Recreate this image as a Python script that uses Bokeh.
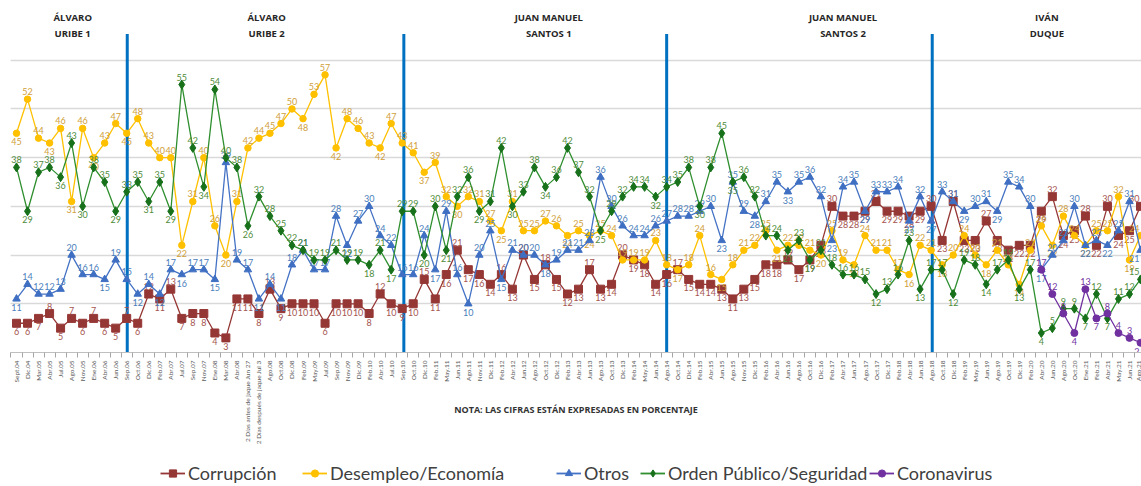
import math
from bokeh.plotting import figure
from bokeh.layouts import column
from bokeh.models import FixedTicker, Grid, Legend, LegendItem, ColumnDataSource
from bokeh.embed import file_html
from bokeh.resources import INLINE
from bokeh.core.properties import value

# ---------------- data ----------------
fechas = [
    "Sept.04", "Dic.04", "Mar.05", "Abr.05", "Jul.05", "Ago.05", "Nov.05", "Ene.06", "Abr.06", "Jun.06",
    "Sep.06", "Oct.06", "Dic.06", "Feb.07", "Abr.07", "Jul.07", "Sep.07", "Nov.07", "Ene.08", "Mar.08",
    "Abr.08", "2 Días antes de jaque Jun 27", "2 Días después de jaque Jul 3", "Ago.08", "Oct.08", "Dic.08", "Feb.09", "May.09", "Jul.09", "Sep.09",
    "Nov.09", "Dic.09", "Feb.10", "Abr.10", "Jul.10", "Sep.10", "Oct.10", "Dic.10", "Feb.11", "May.11",
    "Jun.11", "Ago.11", "Nov.11", "Dic.11", "Feb.12", "Abr.12", "Jun.12", "Ago.12", "Oct.12", "Dic.12",
    "Feb.13", "Abr.13", "Jun.13", "Ago.13", "Oct.13", "Dic.13", "Feb.14", "May.14", "Jun.14", "Ago.14",
    "Oct.14", "Dic.14", "Feb.15", "Abr.15", "Jun.15", "Ago.15", "Nov.15", "Dic.15", "Feb.16", "Abr.16",
    "Jun.16", "Ago.16", "Oct.16", "Dic.16", "Feb.17", "Abr.17", "Jun.17", "Ago.17", "Oct.17", "Dic.17",
    "Feb.18", "Abr.18", "Jun.18", "Ago.18", "Oct.18", "Dic.18", "Feb.19", "May.19", "Jun.19", "Ago.19",
    "Oct.19", "Dic.19", "Feb.20", "Abr.20", "Jun.20", "Ago.20", "Oct.20", "Ene.21", "Feb.21", "Abr.21",
    "May.21", "Jun.21", "Ago.21",
]

corrupcion = [
    6, 6, 7, 8, 5, 7, 6, 7, 6, 5,
    7, 6, 12, 11, 13, 7, 8, 8, 4, 3,
    11, 11, 8, 13, 9, 10, 10, 10, 6, 10,
    10, 10, 8, 12, 10, 9, 10, 15, 11, 16,
    21, 17, 16, 14, 16, 13, 20, 15, 18, 15,
    12, 13, 17, 13, 14, 20, 19, 18, 14, 16,
    17, 15, 14, 14, 13, 11, 13, 15, 18, 18,
    19, 17, 19, 22, 30, 28, 28, 29, 31, 29,
    29, 28, 29, 30, 23, 31, 23, 23, 27, 23,
    21, 22, 22, 29, 32, 24, 25, 28, 22, 30,
    24, 25, 30,
]

desempleo = [
    45, 52, 44, 43, 46, 31, 46, 40, 43, 47,
    45, 48, 43, 40, 40, 22, 31, 40, 26, 20,
    31, 42, 44, 45, 47, 50, 48, 53, 57, 42,
    48, 46, 43, 42, 47, 43, 41, 37, 39, 32,
    30, 32, 31, 27, 25, 31, 25, 25, 27, 26,
    24, 25, 24, 25, 24, 19, 19, 19, 23, 18,
    17, 18, 24, 16, 15, 18, 21, 22, 25, 21,
    22, 22, 21, 20, 25, 19, 18, 24, 21, 21,
    17, 16, 22, 21, 18, 20, 24, 20, 18, 21,
    18, 14, 21, 26, 22, 28, 24, 22, 25, 25,
    32, 19, 24,
]

otros = [
    11, 14, 12, 12, 13, 20, 16, 16, 15, 19,
    15, 12, 14, 12, 17, 16, 17, 17, 15, 39,
    19, 17, 11, 14, 11, 18, 21, 17, 17, 28,
    22, 27, 30, 24, 22, 16, 16, 24, 17, 29,
    16, 10, 20, 25, 15, 21, 20, 20, 18, 19,
    21, 21, 23, 36, 30, 26, 24, 24, 26, 27,
    28, 28, 29, 30, 23, 35, 29, 28, 31, 35,
    33, 35, 36, 32, 23, 34, 35, 29, 33, 33,
    34, 27, 32, 27, 33, 31, 29, 30, 31, 29,
    35, 34, 30, 17, 20, 23, 30, 22, 23, 22,
    25, 31, 21,
]

orden = [
    38, 29, 37, 38, 36, 43, 30, 38, 35, 29,
    33, 35, 31, 35, 29, 55, 42, 34, 54, 40,
    38, 26, 32, 28, 25, 22, 21, 19, 19, 21,
    19, 19, 18, 21, 17, 29, 29, 20, 30, 21,
    32, 36, 29, 31, 42, 30, 33, 38, 34, 36,
    42, 37, 32, 25, 29, 32, 34, 34, 32, 34,
    35, 38, 30, 38, 45, 35, 36, 32, 24, 24,
    21, 23, 19, 21, 18, 16, 16, 15, 12, 13,
    16, 23, 13, 17, 17, 12, 19, 18, 14, 17,
    19, 13, 17, 4, 5, 9, 9, 7, 12, 7,
    11, 12, 15,
]

coronavirus_fechas = ["Abr.20", "Jun.20", "Ago.20", "Oct.20", "Ene.21", "Feb.21", "Abr.21", "May.21", "Jun.21", "Ago.21"]
coronavirus = [17, 12, 8, 4, 13, 7, 8, 4, 3, 2]

gobiernos_l1 = ["ÁLVARO", "ÁLVARO", "JUAN MANUEL", "JUAN MANUEL", "IVÁN"]
gobiernos_l2 = ["URIBE 1", "URIBE 2", "SANTOS 1", "SANTOS 2", "DUQUE"]
gobiernos_centro = [5.1, 22.7, 48.3, 75.0, 93.5]
cambios_gobierno = [10.05, 35.15, 59.0, 83.1]

nota = "NOTA: LAS CIFRAS ESTÁN EXPRESADAS EN PORCENTAJE"

# ---------------- main figure ----------------
n = len(fechas)
xs = list(range(n))
FONT = "Lato"

p = figure(width=1141, height=446, x_range=(-0.545, 102.09), y_range=(0, 70),
           output_backend="svg", toolbar_location=None, y_axis_location=None,
           min_border_left=10, min_border_right=0, min_border_top=11, min_border_bottom=94)
p.outline_line_color = None
p.xgrid.visible = False
p.add_layout(Grid(dimension=1, ticker=FixedTicker(ticks=list(range(0, 71, 10))),
                  grid_line_color="#d9d9d9", grid_line_width=1.5))

xa = p.xaxis[0]
xa.ticker = FixedTicker(ticks=xs, minor_ticks=[i - 0.5 for i in range(n + 1)])
xa.major_label_overrides = {i: f for i, f in enumerate(fechas)}
xa.major_label_orientation = math.pi / 2
xa.major_tick_line_color = None
xa.major_tick_out = 0
xa.major_tick_in = 0
xa.minor_tick_line_color = "#a6a6a6"
xa.minor_tick_out = 5
xa.minor_tick_in = 0
xa.axis_line_color = "#bfbfbf"
xa.major_label_text_font_size = "6.5px"
xa.major_label_text_color = "#595959"
xa.major_label_text_font = FONT
xa.major_label_standoff = 3
xa.axis_label = nota
xa.axis_label_text_font = "Open Sans"
xa.axis_label_text_font_size = "9px"
xa.axis_label_text_font_style = "bold"
xa.axis_label_text_color = "#333333"
xa.axis_label_standoff = -44

# government change separators
p.segment(x0=cambios_gobierno, y0=0, x1=cambios_gobierno, y1=65.4,
          line_color="#0070c0", line_width=3)

# government titles
for txt, yv in ((gobiernos_l1, 68.7), (gobiernos_l2, 65.4)):
    p.text(x=gobiernos_centro, y=[yv] * len(txt), text=txt, text_align="center",
           text_baseline="middle", text_font=value("Open Sans"), text_font_size="9.5px",
           text_font_style="bold", text_color="#262626")


def side(vals, i, default):
    v = vals[i]
    neigh = []
    if i > 0:
        neigh.append(vals[i - 1])
    if i < len(vals) - 1:
        neigh.append(vals[i + 1])
    if all(v < nb for nb in neigh):
        return "below"
    if all(v > nb for nb in neigh):
        return "above"
    return default


def add_labels(x, vals, color, default):
    groups = {}
    for j, (xi, v) in enumerate(zip(x, vals)):
        s = side(vals, j, default)
        a = "right" if xi == n - 1 else "center"
        g = groups.setdefault((s, a), {"x": [], "y": [], "t": []})
        g["x"].append(xi)
        g["y"].append(v)
        g["t"].append(str(v))
    for (s, a), d in groups.items():
        p.text(x="x", y="y", text="t", source=ColumnDataSource(d), text_align=a,
               text_baseline="bottom" if s == "above" else "top",
               y_offset=-4 if s == "above" else 5, x_offset=-1 if a == "right" else 0,
               text_font=value(FONT), text_font_size="9px", text_color=color)


series = [
    ("Corrupción", xs, corrupcion, "#953735", "#953735", "square", 8, "#a5544f", "below"),
    ("Desempleo/Economía", xs, desempleo, "#ffc000", "#ffc000", "circle", 6.5, "#d0a03a", "above"),
    ("Otros", xs, otros, "#4472c4", "#3f6fc2", "triangle", 7.5, "#4a7ebb", "above"),
    ("Orden Público/Seguridad", xs, orden, "#2f8f2f", "#17701a", "diamond", 9, "#4f8c3a", "above"),
    ("Coronavirus", [fechas.index(f) for f in coronavirus_fechas], coronavirus,
     "#7030a0", "#7030a0", "circle", 7, "#7030a0", "above"),
]

for name, x, vals, lc, mc, marker, size, tc, default in series:
    p.line(x, vals, line_color=lc, line_width=1.3)
    p.scatter(x, vals, marker=marker, size=size, fill_color=mc, line_color=mc)
    add_labels(x, vals, tc, default)

# ---------------- legend strip ----------------
lg = figure(width=1141, height=40, x_range=(0, 1), y_range=(0, 1), output_backend="svg",
            toolbar_location=None, x_axis_location=None, y_axis_location=None,
            min_border=0)
lg.outline_line_color = None
lg.grid.visible = False
legend_x = [150, 292, 546, 630, 859]
nan = float("nan")
for (name, x, vals, lc, mc, marker, size, tc, default), lx in zip(series, legend_x):
    lr = lg.line([nan], [nan], line_color=lc, line_width=1.8)
    sr = lg.scatter([nan], [nan], marker=marker, size=size + 1.5, fill_color=mc, line_color=mc)
    lg.add_layout(Legend(items=[LegendItem(label=name, renderers=[lr, sr])],
                         location=(lx, 2), border_line_color=None, background_fill_alpha=0,
                         label_text_font_size="18px", label_text_color="#404040",
                         label_text_font=FONT, glyph_width=25, glyph_height=18,
                         label_height=18, padding=0, margin=0, label_standoff=3))

layout = column(p, lg, spacing=0)
open("out.html", "w").write(file_html(layout, INLINE))
